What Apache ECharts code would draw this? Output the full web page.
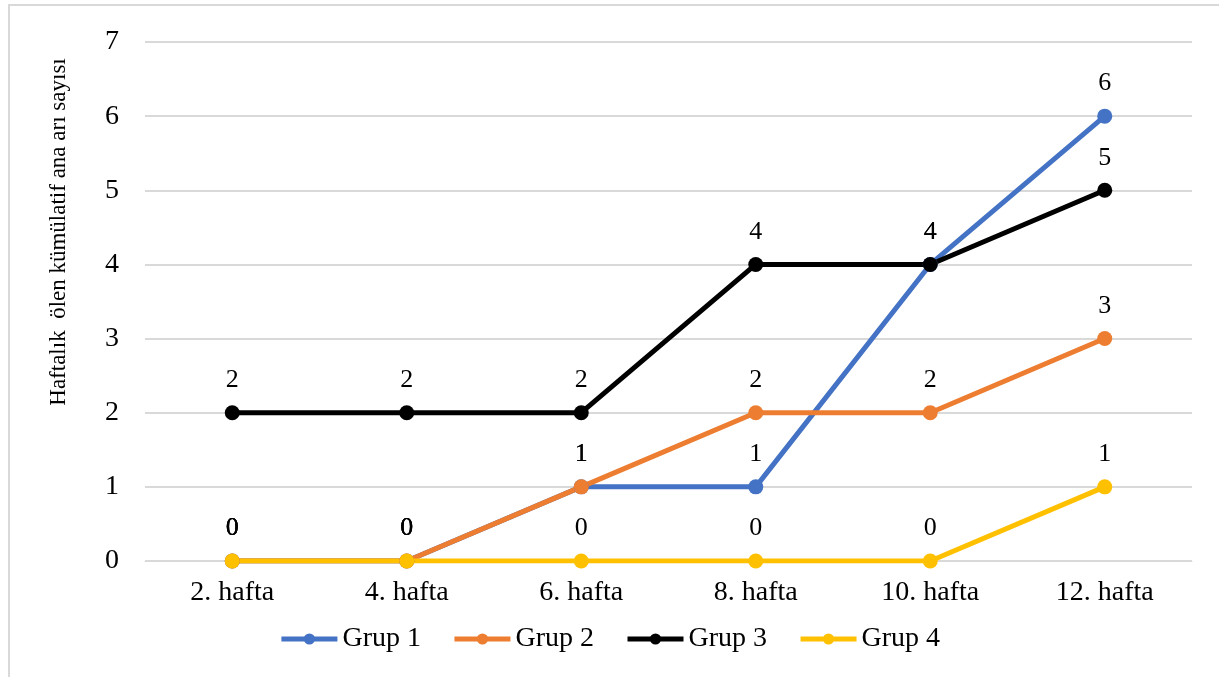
<!DOCTYPE html>
<html><head><meta charset="utf-8">
<script src="https://cdn.jsdelivr.net/npm/echarts@6/dist/echarts.min.js"></script>
<style>html,body{margin:0;padding:0;background:#fff}#c{width:1219px;height:677px}</style>
</head><body><div id="c"></div>
<script>
const categories = ['2. hafta','4. hafta','6. hafta','8. hafta','10. hafta','12. hafta'];
const grup1 = [0,0,1,1,4,6];
const grup2 = [0,0,1,2,2,3];
const grup3 = [2,2,2,4,4,5];
const grup4 = [0,0,0,0,0,1];
const seriesNames = ['Grup 1','Grup 2','Grup 3','Grup 4'];
const colors = ['#4472C4','#ED7D31','#000000','#FFC000'];
const yTitle = 'Haftalık  ölen kümülatif ana arı sayısı';
const font = '"Liberation Serif","Times New Roman",serif';

const chart = echarts.init(document.getElementById('c'));
const datas = [grup1,grup2,grup3,grup4];
chart.setOption({
  animation:false,
  textStyle:{fontFamily:font},
  graphic:[
    {type:'polyline',shape:{points:[[9,677],[9,5],[1219,5]]},style:{fill:'none',stroke:'#D9D9D9',lineWidth:2},silent:true},
    {type:'text',x:59,y:232,rotation:Math.PI/2,style:{text:yTitle,font:'23px '+font,fill:'#000',align:'center',verticalAlign:'middle'}}
  ],
  grid:{left:145,right:27,top:42,bottom:116,containLabel:false},
  legend:{top:620,left:'center',itemWidth:56,itemHeight:14,itemGap:31,
    lineStyle:{width:5},
    textStyle:{fontFamily:font,fontSize:28,color:'#000'},
    data:seriesNames},
  xAxis:{type:'category',data:categories,boundaryGap:true,
    axisLine:{show:true,lineStyle:{color:'#D9D9D9'}},axisTick:{show:false},
    axisLabel:{fontFamily:font,fontSize:28,color:'#000',margin:18}},
  yAxis:{type:'value',min:0,max:7,interval:1,
    axisLine:{show:false},axisTick:{show:false},
    splitLine:{lineStyle:{color:'#D9D9D9',width:2}},
    axisLabel:{fontFamily:font,fontSize:28,color:'#000',margin:26}},
  series:datas.map((d,i)=>({
    name:seriesNames[i],type:'line',data:d,
    symbol:'circle',symbolSize:15,
    lineStyle:{color:colors[i],width:5},
    itemStyle:{color:colors[i]},
    label:{show:true,position:'top',distance:12,fontFamily:font,fontSize:26,color:'#000'}
  }))
});
</script></body></html>
